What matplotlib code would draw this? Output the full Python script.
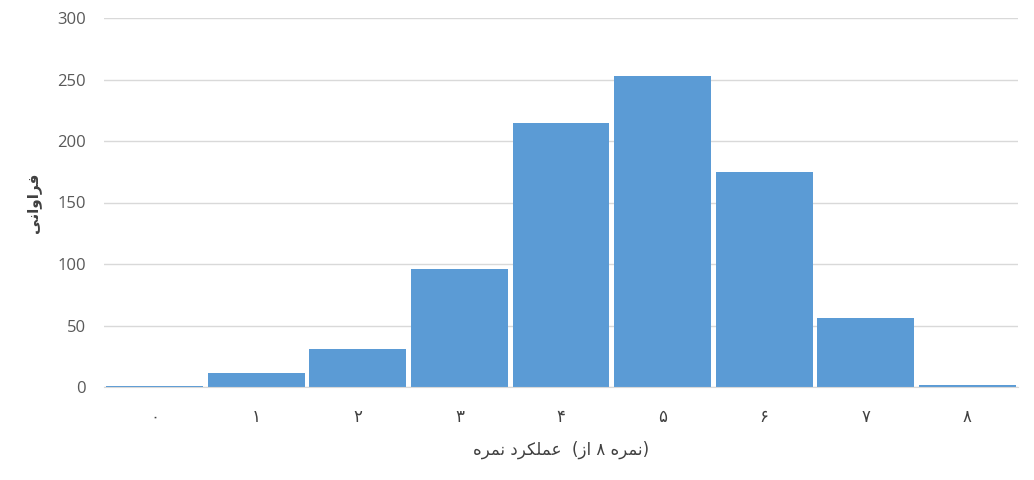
import matplotlib
matplotlib.use("Agg")
import matplotlib.pyplot as plt
import numpy as np

# Persian text is written in presentation forms, in visual (left-to-right) order,
# because matplotlib does no Arabic shaping or bidi.
scores = ["\u06f0", "\u06f1", "\u06f2", "\u06f3", "\u06f4",
          "\u06f5", "\u06f6", "\u06f7", "\u06f8"]
counts = [1, 11, 31, 96, 215, 253, 175, 56, 2]
yticks = [0, 50, 100, 150, 200, 250, 300]

# "فراوانی"
ylabel = "\ufbfd\ufee7\ufe8d\ufeed\ufe8d\ufeae\ufed3"
# "نمره عملکرد  (از ۸ نمره)" as shown in the reference (words in LTR order)
w_nomre = "\ufee9\ufeae\ufee4\ufee7"
w_amalkard = "\ufea9\ufeae\ufb91\ufee0\ufee4\ufecb"
w_az = "\ufeaf\ufe8d"
xlabel = f"{w_nomre} {w_amalkard}  ({w_az} \u06f8 {w_nomre})"

plt.rcParams["font.family"] = ["Open Sans", "DejaVu Sans"]

fig = plt.figure(figsize=(10.34, 4.8), dpi=100)
ax = fig.add_axes([0.1006, 0.19375, 0.8839, 0.76875])

x = np.arange(len(counts))
ax.bar(x, counts, width=0.955, color="#5B9BD5", zorder=2)

ax.set_xlim(-0.5, len(counts) - 0.5)
ax.set_ylim(0, 300)
ax.set_yticks(yticks)
ax.set_xticks(x)
ax.set_xticklabels(scores, family=["DejaVu Sans"], fontsize=12, color="#404040")
ax.tick_params(axis="y", length=0, pad=13, labelsize=12, labelcolor="#595959")
ax.tick_params(axis="x", length=0, pad=15)

ax.grid(axis="y", color="#D9D9D9", linewidth=1, zorder=0)
for s in ["top", "right", "left"]:
    ax.spines[s].set_visible(False)
ax.spines["bottom"].set_color("#D9D9D9")
ax.spines["bottom"].set_zorder(3)

ax.set_ylabel(ylabel, family=["DejaVu Sans"], fontsize=11, color="#404040",
              fontweight="bold", labelpad=12)
ax.set_xlabel(xlabel, family=["DejaVu Sans"], fontsize=12, color="#404040",
              labelpad=11)

fig.savefig("out.png", dpi=100)
